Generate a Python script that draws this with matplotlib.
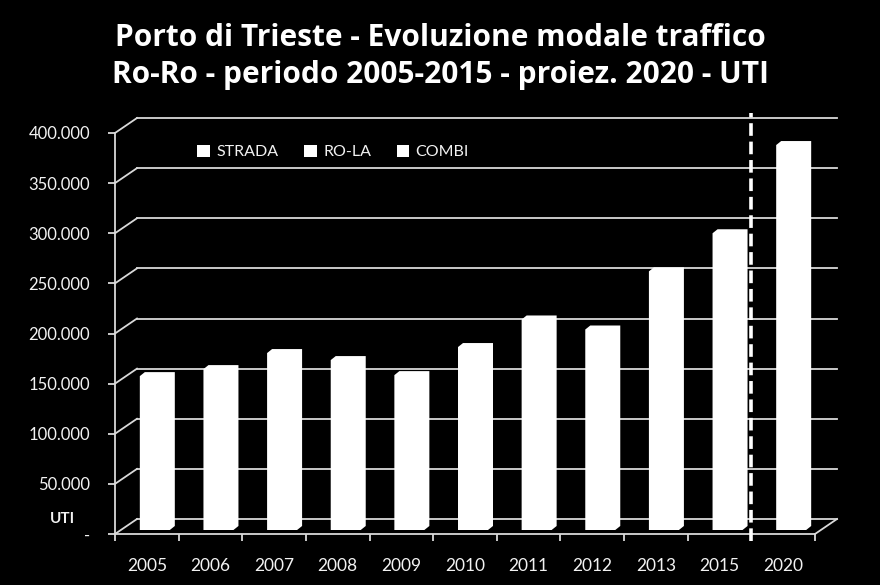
import matplotlib.pyplot as plt
from matplotlib.patches import Polygon, Patch
import numpy as np

# data
years = ['2005', '2006', '2007', '2008', '2009', '2010',
         '2011', '2012', '2013', '2015', '2020']
strada = [153500, 160500, 176500, 169500, 154500, 182500,
          210000, 200000, 258000, 296000, 384000]
legend_labels = ['STRADA', 'RO-LA', 'COMBI']
yticks = [0, 50000, 100000, 150000, 200000, 250000, 300000, 350000, 400000]
ytick_labels = ['-', '50.000', '100.000', '150.000', '200.000',
                '250.000', '300.000', '350.000', '400.000']
title_lines = ['Porto di Trieste - Evoluzione modale traffico',
               'Ro-Ro - periodo 2005-2015 - proiez. 2020 - UTI']
unit_label = 'UTI'
projection_split = 9.5  # between 2015 and 2020

W, H = 880, 585
FONT = 'Lato'
TXT = '#f2f2f2'
GRID = '#d9d9d9'

fig = plt.figure(figsize=(W / 100, H / 100), dpi=100, facecolor='black')
ax = fig.add_axes([115 / W, 51 / H, 700 / W, 401 / H])
ax.set_facecolor('none')
ax.set_xlim(-0.5, len(years) - 0.5)
ax.set_ylim(0, 400000)

# pixel -> data units
px_x = len(years) / 700
px_y = 400000 / 401
dep_x, dep_y = 22 * px_x, 15 * px_y
x0, x1 = ax.get_xlim()

# back wall gridlines + side wall diagonals
for v in yticks:
    ax.plot([x0 + dep_x, x1 + dep_x], [v + dep_y, v + dep_y], color=GRID, lw=1.3,
            clip_on=False, zorder=1)
    ax.plot([x0, x0 + dep_x], [v, v + dep_y], color=GRID, lw=1.3,
            clip_on=False, zorder=1)
ax.plot([x1, x1 + dep_x], [0, dep_y], color=GRID, lw=1.3, clip_on=False, zorder=1)

# 3D-looking columns
half = 15 * px_x
shift_x = 8 * px_x
for i, v in enumerate(strada):
    cx = i + shift_x
    fb, bb = 4 * px_y, 8 * px_y
    bx = 5 * px_x
    verts = [(cx - half, fb), (cx + half, fb), (cx + half + bx, bb),
             (cx + half + bx, v + bb), (cx - half + bx, v + bb), (cx - half, v + fb)]
    ax.add_patch(Polygon(verts, closed=True, facecolor='white', edgecolor='none',
                         zorder=3, clip_on=False))

# projection separator
ax.plot([projection_split, projection_split], [-7 * px_y, 421 * px_y], color='white',
        lw=2.6, ls=(0, (3.5, 1.6)), clip_on=False, zorder=5)

# axes styling
for s in ['top', 'right']:
    ax.spines[s].set_visible(False)
for s in ['left', 'bottom']:
    ax.spines[s].set_color(GRID)
    ax.spines[s].set_linewidth(1.3)
    ax.spines[s].set_zorder(4)

ax.set_yticks(yticks, ytick_labels)
ax.tick_params(axis='y', direction='out', length=5, width=1.3, color=GRID,
               labelcolor=TXT, labelsize=12, pad=13)
ax.set_xticks(range(len(years)), years)
ax.set_xticks(np.arange(-0.5, len(years)), minor=True)
ax.tick_params(axis='x', which='major', length=0, labelcolor=TXT, labelsize=12.5, pad=17)
ax.tick_params(axis='x', which='minor', direction='out', length=5, width=1.3, color=GRID)
for lab in ax.get_xticklabels() + ax.get_yticklabels():
    lab.set_fontfamily(FONT)

handles = [Patch(facecolor='white', edgecolor='none') for _ in legend_labels]
leg = ax.legend(handles, legend_labels, ncol=3, frameon=False, loc='center left',
                bbox_to_anchor=(197 / W, 1 - 152 / H), bbox_transform=fig.transFigure,
                borderpad=0, borderaxespad=0, handlelength=0.8, handleheight=0.8,
                handletextpad=0.4, columnspacing=1.6,
                prop={'family': FONT, 'size': 11.5})
for t in leg.get_texts():
    t.set_color(TXT)

fig.text(62 / W, 1 - 519 / H, unit_label, color=TXT, fontsize=11, fontweight='bold',
         family=FONT, ha='center', va='center')

fig.text(440 / W, 1 - 38 / H, title_lines[0], color='white', fontsize=21.5,
         fontweight='bold', family='Open Sans', ha='center', va='center')
fig.text(440 / W, 1 - 75 / H, title_lines[1], color='white', fontsize=21.5,
         fontweight='bold', family='Open Sans', ha='center', va='center')

fig.savefig('out.png', dpi=100, facecolor='black')
